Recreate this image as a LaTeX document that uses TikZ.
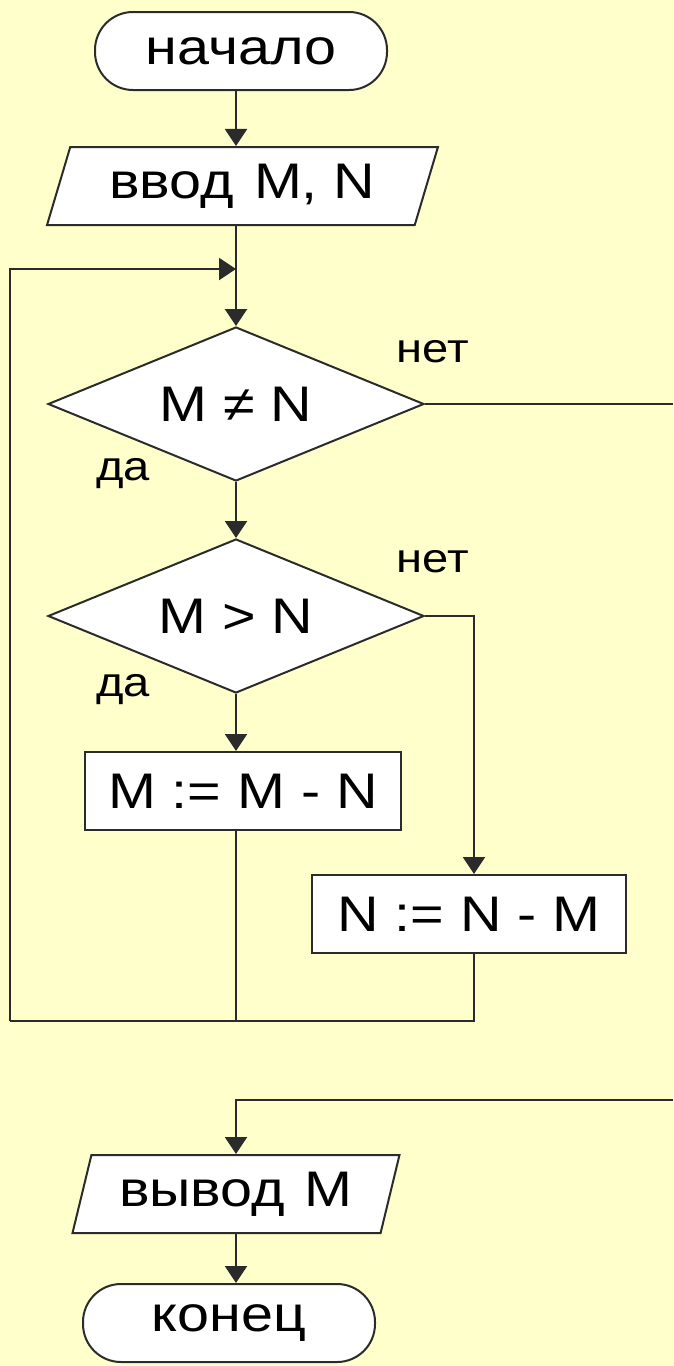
\documentclass[tikz,border=0pt]{standalone}
\usepackage{fontspec}
\setmainfont[FakeStretch=1.15]{Liberation Sans}
\usetikzlibrary{shapes.geometric,arrows.meta,calc}
\definecolor{paper}{HTML}{FFFFCC}
\definecolor{ink}{HTML}{2B2B2B}

\begin{document}
\begin{tikzpicture}[x=1pt,y=-1pt,
  every node/.style={font=\fontsize{50}{60}\selectfont},
  blk/.style={draw=ink, line width=2pt, fill=white, inner sep=0pt},
  term/.style={blk, rectangle, rounded corners=38pt, minimum width=292pt, minimum height=78pt},
  io/.style={blk, trapezium, trapezium stretches=true, minimum height=78pt},
  cond/.style={blk, diamond, aspect=2.44, minimum width=376pt, minimum height=154pt},
  proc/.style={blk, rectangle, minimum width=316pt, minimum height=78pt},
  lbl/.style={font=\fontsize{41}{48}\selectfont, inner sep=0pt},
  flow/.style={draw=ink, line width=2pt},
  arr/.style={flow, -{Triangle[width=22pt,length=17pt]}},
]
% page and background
\useasboundingbox (0,0) rectangle (673,1366);
\fill[paper] (0,0) rectangle (673,1366);

% blocks
\node[term] (start) at (241,51) {начало};
\node[io, trapezium left angle=68, trapezium right angle=112, minimum width=391pt] (inp) at (242.5,186) {ввод\hspace{0.4em}M, N};
\node[cond] (c1) at (236,404) {M ≠ N};
\node[cond] (c2) at (236,616) {M > N};
\node[proc] (s1) at (243,791) {M := M - N};
\node[proc, minimum width=314pt] (s2) at (469,914) {N := N - M};
\node[io, trapezium left angle=71, trapezium right angle=109, minimum width=328pt] (outp) at (236,1194) {вывод\hspace{0.4em}M};
\node[term] (stop) at (229,1323) {конец};

% branch labels
\node[lbl] (no1) at (433,352) {нет};
\node[lbl] (yes1) at (123,474) {да};
\node[lbl] (no2) at (433,562) {нет};
\node[lbl] (yes2) at (123,690) {да};

% routing points
\coordinate (top) at (236,269);
\coordinate (bl) at (10,1021);
\coordinate (br) at (474,1021);
\coordinate (split) at (474,616);
\coordinate (exit) at (673,404);
\coordinate (back) at (673,1100);

% connectors
\draw[arr] (top |- start.south) -- (top |- inp.north);
\draw[flow] (top |- inp.south) -- (top);
\draw[arr] (top) -- (c1.north);
\draw[arr] (bl) -- (bl |- top) -- (top);
\draw[arr] (c1.south) -- (c2.north);
\draw[arr] (c2.south) -- (c2.south |- s1.north);
\draw[arr] (c2.east) -- (split) -- (split |- s2.north);
\draw[flow] (c2.south |- s1.south) -- (c2.south |- bl);
\draw[flow] (split |- s2.south) -- (br) -- (bl);
\draw[flow] (c1.east) -- (exit);
\draw[arr] (back) -- (c1.south |- back) -- (c1.south |- outp.north);
\draw[arr] (c1.south |- outp.south) -- (c1.south |- stop.north);
\end{tikzpicture}
\end{document}
